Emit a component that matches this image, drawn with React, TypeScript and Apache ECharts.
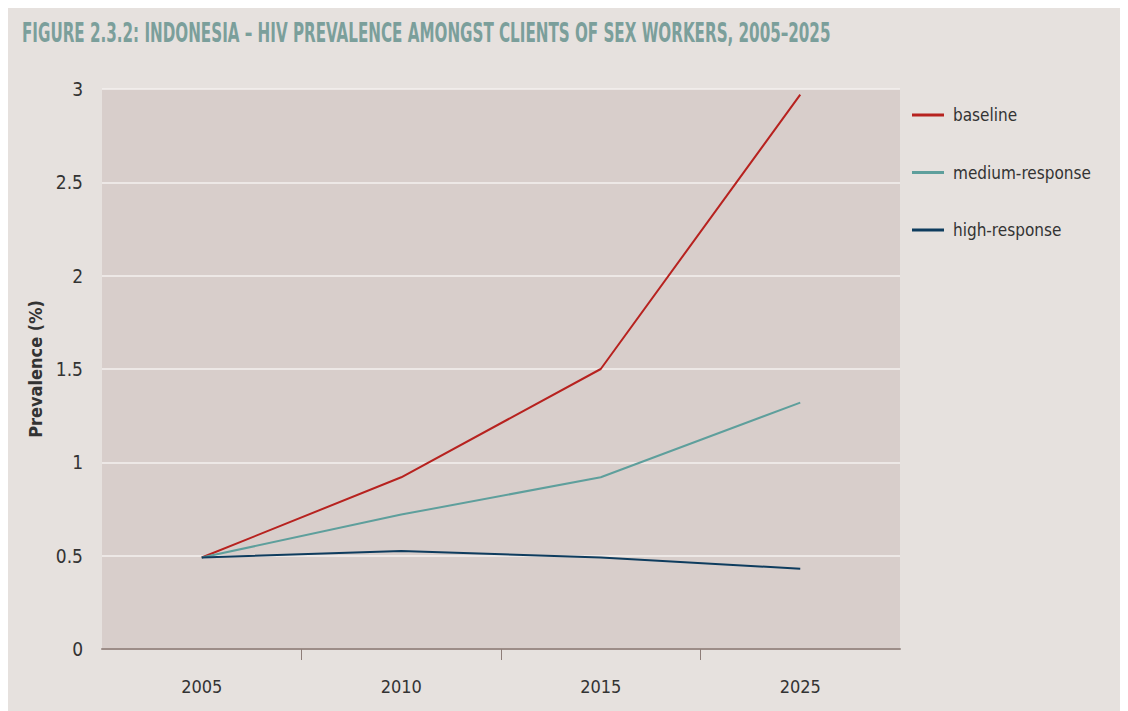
import React, { useEffect, useRef } from "react";
import * as echarts from "echarts";

const years = ["2005", "2010", "2015", "2025"];
const baseline = [0.49, 0.92, 1.5, 2.97];
const mediumResponse = [0.49, 0.72, 0.92, 1.32];
const highResponse = [0.49, 0.525, 0.49, 0.43];
const seriesNames = ["baseline", "medium-response", "high-response"];
const seriesColors = ["#b7221f", "#5e9f9c", "#0e3c5e"];
const tickPositions = [1, 2, 3];
const titleText = "FIGURE 2.3.2: INDONESIA – HIV PREVALENCE AMONGST CLIENTS OF SEX WORKERS, 2005–2025";

const FONT = '"DejaVu Sans Condensed", "Liberation Sans Narrow", sans-serif';

export default function App() {
  const ref = useRef<HTMLDivElement>(null);
  useEffect(() => {
    if (!ref.current) return;
    const chart = echarts.init(ref.current, null, { renderer: "svg" });
    const data = [baseline, mediumResponse, highResponse];
    chart.setOption({
      animation: false,
      backgroundColor: "#e6e1de",
      graphic: [
        {
          type: "text",
          x: 14,
          y: 25,
          scaleX: 0.648,
          scaleY: 1,
          style: {
            text: titleText,
            fill: "#7b9f9b",
            font: 'bold 26px "DejaVu Sans Condensed", sans-serif',
            align: "left",
            verticalAlign: "middle",
          },
        },
      ],
      legend: {
        orient: "vertical",
        left: 899,
        top: 92,
        itemWidth: 32,
        itemHeight: 3,
        itemGap: 37.5,
        icon: "rect",
        data: seriesNames,
        textStyle: {
          color: "#333",
          fontFamily: FONT,
          fontSize: 17,
          lineHeight: 20,
          padding: [0, 0, 0, 4],
        },
      },
      grid: {
        left: 94,
        top: 81,
        right: 228,
        bottom: 62,
        show: true,
        backgroundColor: "#d8cecb",
        borderWidth: 0,
        containLabel: false,
      },
      xAxis: [
        {
          type: "category",
          data: years,
          boundaryGap: true,
          axisLine: { show: true, lineStyle: { color: "#9d8d88", width: 2 } },
          axisTick: { show: false },
          axisLabel: {
            color: "#333",
            fontFamily: FONT,
            fontSize: 18,
            margin: 28,
          },
        },
        {
          type: "value",
          position: "bottom",
          min: 0,
          max: 4,
          interval: 1,
          axisLine: { show: false },
          axisLabel: { show: false },
          splitLine: { show: false },
          axisTick: {
            show: true,
            customValues: tickPositions,
            length: 11,
            lineStyle: { color: "#8d7d78", width: 1 },
          },
        },
      ],
      yAxis: {
        type: "value",
        min: 0,
        max: 3,
        interval: 0.5,
        name: "Prevalence (%)",
        nameLocation: "middle",
        nameGap: 52,
        nameTextStyle: {
          color: "#333",
          fontFamily: FONT,
          fontWeight: "bold",
          fontSize: 18,
        },
        axisLine: { show: false },
        axisTick: { show: false },
        splitLine: { show: true, lineStyle: { color: "#f4f1ef", width: 1.5 } },
        axisLabel: {
          color: "#333",
          fontFamily: FONT,
          fontSize: 19,
          margin: 19,
        },
      },
      series: seriesNames.map((name, i) => ({
        name,
        type: "line",
        xAxisIndex: 0,
        data: data[i],
        symbol: "none",
        lineStyle: { color: seriesColors[i], width: 2 },
        itemStyle: { color: seriesColors[i] },
      })),
    });
    return () => chart.dispose();
  }, []);
  return <div ref={ref} style={{ width: 1120, height: 703 }} />;
}
